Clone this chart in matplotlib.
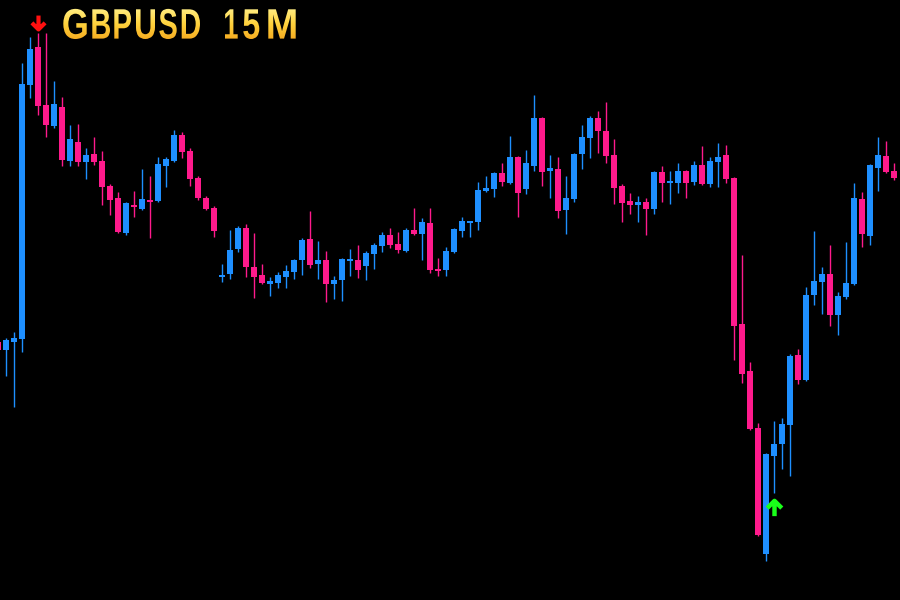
import matplotlib
matplotlib.use("Agg")
import matplotlib.pyplot as plt
import numpy as np
from matplotlib.path import Path
from matplotlib.markers import MarkerStyle
from matplotlib.textpath import TextPath
from matplotlib.font_manager import FontProperties
from matplotlib.patches import PathPatch
from matplotlib.transforms import Affine2D
from matplotlib.colors import LinearSegmentedColormap

# --- datos ---
simbolo = "GBPUSD"
marco = "15M"

aperturas = [
    1.27658, 1.27650, 1.27658, 1.27661, 1.27915, 1.27953, 1.27895, 1.27874, 1.27893, 1.27839,
    1.27858, 1.27838, 1.27846, 1.27839, 1.27814, 1.27802, 1.27767, 1.27794, 1.27791, 1.27800,
    1.27799, 1.27834, 1.27839, 1.27865, 1.27849, 1.27822, 1.27802, 1.27792, 1.27723, 1.27726,
    1.27751, 1.27772, 1.27733, 1.27725, 1.27716, 1.27717, 1.27723, 1.27728, 1.27740, 1.27761,
    1.27736, 1.27740, 1.27716, 1.27720, 1.27739, 1.27740, 1.27734, 1.27746, 1.27754, 1.27765,
    1.27756, 1.27749, 1.27770, 1.27766, 1.27777, 1.27731, 1.27730, 1.27748, 1.27769, 1.27777,
    1.27778, 1.27809, 1.27811, 1.27827, 1.27817, 1.27843, 1.27811, 1.27834, 1.27882, 1.27829,
    1.27831, 1.27790, 1.27801, 1.27846, 1.27862, 1.27882, 1.27869, 1.27845, 1.27814, 1.27799,
    1.27795, 1.27798, 1.27791, 1.27828, 1.27817, 1.27817, 1.27829, 1.27818, 1.27835, 1.27816,
    1.27838, 1.27845, 1.27822, 1.27676, 1.27629, 1.27572, 1.27446, 1.27544, 1.27556, 1.27575,
    1.27645, 1.27620, 1.27705, 1.27718, 1.27726, 1.27685, 1.27703, 1.27716, 1.27801, 1.27764,
    1.27832, 1.27844, 1.27829,
]
maximos = [
    1.27660, 1.27662, 1.27668, 1.27937, 1.27963, 1.27967, 1.27967, 1.27919, 1.27903, 1.27875,
    1.27876, 1.27852, 1.27863, 1.27849, 1.27816, 1.27808, 1.27798, 1.27809, 1.27831, 1.27824,
    1.27843, 1.27843, 1.27870, 1.27868, 1.27852, 1.27824, 1.27804, 1.27794, 1.27736, 1.27770,
    1.27774, 1.27776, 1.27767, 1.27736, 1.27723, 1.27728, 1.27735, 1.27741, 1.27762, 1.27789,
    1.27759, 1.27749, 1.27724, 1.27742, 1.27751, 1.27755, 1.27749, 1.27757, 1.27768, 1.27772,
    1.27768, 1.27772, 1.27792, 1.27782, 1.27792, 1.27742, 1.27753, 1.27772, 1.27783, 1.27778,
    1.27818, 1.27824, 1.27828, 1.27837, 1.27864, 1.27844, 1.27850, 1.27905, 1.27883, 1.27845,
    1.27843, 1.27824, 1.27847, 1.27875, 1.27884, 1.27889, 1.27898, 1.27861, 1.27816, 1.27807,
    1.27804, 1.27802, 1.27829, 1.27834, 1.27829, 1.27837, 1.27830, 1.27839, 1.27854, 1.27843,
    1.27857, 1.27855, 1.27823, 1.27745, 1.27638, 1.27577, 1.27547, 1.27579, 1.27582, 1.27646,
    1.27651, 1.27713, 1.27769, 1.27733, 1.27755, 1.27708, 1.27758, 1.27817, 1.27808, 1.27836,
    1.27863, 1.27859, 1.27837,
]
minimos = [
    1.27648, 1.27624, 1.27593, 1.27648, 1.27902, 1.27885, 1.27863, 1.27872, 1.27834, 1.27834,
    1.27834, 1.27821, 1.27835, 1.27795, 1.27785, 1.27767, 1.27765, 1.27783, 1.27790, 1.27762,
    1.27798, 1.27813, 1.27838, 1.27842, 1.27814, 1.27800, 1.27790, 1.27763, 1.27718, 1.27721,
    1.27748, 1.27723, 1.27702, 1.27716, 1.27704, 1.27712, 1.27712, 1.27721, 1.27725, 1.27732,
    1.27721, 1.27698, 1.27701, 1.27699, 1.27724, 1.27722, 1.27720, 1.27731, 1.27748, 1.27752,
    1.27747, 1.27748, 1.27765, 1.27740, 1.27727, 1.27724, 1.27724, 1.27747, 1.27763, 1.27763,
    1.27770, 1.27808, 1.27803, 1.27814, 1.27816, 1.27783, 1.27806, 1.27829, 1.27814, 1.27802,
    1.27782, 1.27766, 1.27798, 1.27831, 1.27842, 1.27847, 1.27837, 1.27796, 1.27778, 1.27786,
    1.27778, 1.27765, 1.27786, 1.27798, 1.27796, 1.27807, 1.27802, 1.27815, 1.27815, 1.27813,
    1.27813, 1.27817, 1.27640, 1.27617, 1.27570, 1.27464, 1.27439, 1.27507, 1.27531, 1.27524,
    1.27616, 1.27619, 1.27695, 1.27686, 1.27674, 1.27665, 1.27701, 1.27715, 1.27753, 1.27755,
    1.27809, 1.27827, 1.27820,
]
cierres = [
    1.27650, 1.27660, 1.27662, 1.27916, 1.27951, 1.27894, 1.27875, 1.27896, 1.27840, 1.27861,
    1.27838, 1.27845, 1.27838, 1.27813, 1.27800, 1.27768, 1.27797, 1.27793, 1.27801, 1.27798,
    1.27836, 1.27841, 1.27865, 1.27848, 1.27821, 1.27802, 1.27791, 1.27769, 1.27725, 1.27750,
    1.27772, 1.27733, 1.27723, 1.27717, 1.27719, 1.27725, 1.27729, 1.27740, 1.27760, 1.27735,
    1.27740, 1.27716, 1.27720, 1.27741, 1.27741, 1.27730, 1.27747, 1.27755, 1.27765, 1.27755,
    1.27750, 1.27770, 1.27766, 1.27778, 1.27730, 1.27729, 1.27749, 1.27771, 1.27779, 1.27778,
    1.27810, 1.27812, 1.27827, 1.27818, 1.27843, 1.27807, 1.27837, 1.27882, 1.27828, 1.27832,
    1.27789, 1.27802, 1.27846, 1.27863, 1.27882, 1.27869, 1.27844, 1.27812, 1.27797, 1.27795,
    1.27798, 1.27791, 1.27828, 1.27817, 1.27818, 1.27829, 1.27817, 1.27835, 1.27816, 1.27839,
    1.27843, 1.27821, 1.27674, 1.27626, 1.27571, 1.27465, 1.27546, 1.27556, 1.27576, 1.27644,
    1.27620, 1.27705, 1.27719, 1.27726, 1.27685, 1.27704, 1.27717, 1.27802, 1.27766, 1.27835,
    1.27845, 1.27828, 1.27822,
]

senal_venta = 5    # vela con flecha roja
senal_compra = 97  # vela con flecha verde

# --- estilo ---
AZUL = "#1e8fff"
ROSA = "#ff1a8c"

o = np.array(aperturas)
h = np.array(maximos)
l = np.array(minimos)
c = np.array(cierres)
x = np.arange(len(o))
colores = [AZUL if cc >= oo else ROSA for oo, cc in zip(o, c)]

fig = plt.figure(figsize=(9, 6), dpi=100, facecolor="black")
ax = fig.add_axes([0, 0, 1, 1])
ax.set_facecolor("black")
ax.set_xlim(0.25, 112.75)
ax.set_ylim(1.27400, 1.28000)
ax.axis("off")

# mechas
ax.vlines(x, l, h, colors=colores, linewidth=1.0)

# cuerpos
abajo = np.minimum(o, c)
alto = np.maximum(np.abs(c - o), 0.00002)
ax.bar(x, alto, bottom=abajo, width=0.65, color=colores, linewidth=0)

# flechas de senal
flecha_abajo = Path([(0, 1), (0, -1), (-0.95, -0.05), (0, -1), (0.95, -0.05)],
                    [Path.MOVETO, Path.LINETO, Path.MOVETO, Path.LINETO, Path.LINETO])
flecha_arriba = Path([(0, -1), (0, 1), (-0.95, 0.05), (0, 1), (0.95, 0.05)],
                     [Path.MOVETO, Path.LINETO, Path.MOVETO, Path.LINETO, Path.LINETO])
ax.plot([senal_venta], [h[senal_venta] + 0.00011], linestyle="none",
        marker=MarkerStyle(flecha_abajo, joinstyle="miter", capstyle="butt"),
        ms=10, mfc="none", mec="#ff1010", mew=3.0)
ax.plot([senal_compra], [l[senal_compra] - 0.000145], linestyle="none",
        marker=MarkerStyle(flecha_arriba, joinstyle="miter", capstyle="butt"),
        ms=11, mfc="none", mec="#19ff19", mew=3.2)

# --- titulo con degradado dorado ---
tax = fig.add_axes([0, 0, 1, 1])
tax.set_xlim(0, 900)
tax.set_ylim(600, 0)
tax.axis("off")

fp = FontProperties(family="Liberation Sans", weight="bold")
letras = (simbolo + marco)
cajas = [(63.3, 86.7), (92.3, 110.0), (114.3, 131.0), (136.0, 155.0), (159.3, 176.7),
         (181.7, 200.0), (225.0, 237.7), (243.3, 259.3), (268.3, 295.7)]
tope, base = 9.3, 38.6
alto_h = TextPath((0, 0), "H", size=100, prop=fp).get_extents().height
sy = (base - tope) / alto_h
rutas = []
for letra, (x0, x1) in zip(letras, cajas):
    tp = TextPath((0, 0), letra, size=100, prop=fp)
    ext = tp.get_extents()
    tr = (Affine2D().translate(-ext.x0, 0)
          .scale((x1 - x0) / ext.width, -sy)
          .translate(x0, base))
    rutas.append(tr.transform_path(tp))
ruta = Path.make_compound_path(*rutas)
parche = PathPatch(ruta, transform=tax.transData, facecolor="none", edgecolor="none")
tax.add_patch(parche)

oro = LinearSegmentedColormap.from_list("oro", ["#fff08a", "#ffd23c", "#f5a81e"])
grad = np.linspace(0, 1, 256).reshape(-1, 1)
im = tax.imshow(grad, cmap=oro, extent=[60, 300, base + 2, tope - 2],
                origin="upper", aspect="auto")
im.set_clip_path(parche)

fig.savefig("out.png", dpi=100, facecolor="black")
